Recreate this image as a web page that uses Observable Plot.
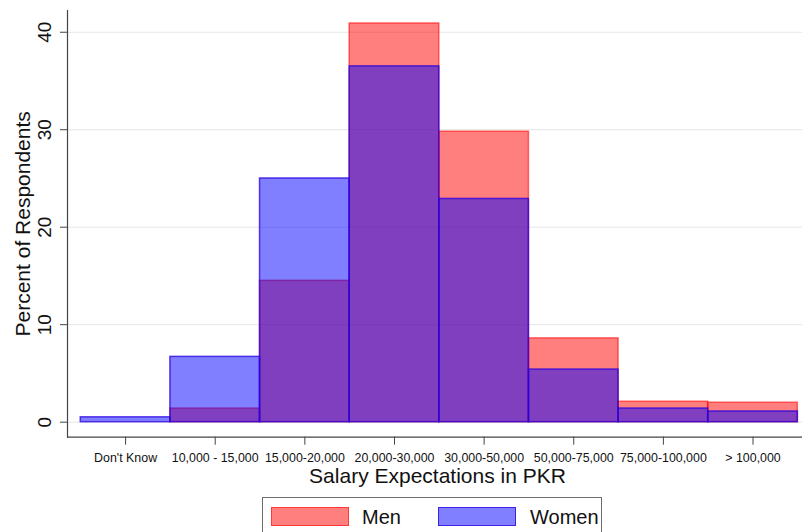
<!DOCTYPE html>
<html>
<head>
<meta charset="utf-8">
<script src="https://cdn.jsdelivr.net/npm/d3@7"></script>
<script src="https://cdn.jsdelivr.net/npm/@observablehq/plot@0.6"></script>
<style>
  html, body { margin: 0; padding: 0; background: #fff; }
  body { font-family: "Liberation Sans", Arial, Helvetica, sans-serif; }
  #wrap { position: relative; width: 802px; height: 532px; overflow: hidden; }
  #legend { position: absolute; left: 262px; top: 497px; width: 340px; height: 60px;
            border: 1px solid #6e6e6e; box-sizing: border-box; background: #fff; }
  .sw { position: absolute; top: 9px; width: 78px; height: 19px; box-sizing: border-box; }
  .lt { position: absolute; top: 8px; font-size: 20px; line-height: 22px; color: #111; }
</style>
</head>
<body>
<div id="wrap">
  <div id="chart"></div>
  <div id="legend"></div>
</div>
<script>
const categories = ["Don't Know", "10,000 - 15,000", "15,000-20,000", "20,000-30,000",
                    "30,000-50,000", "50,000-75,000", "75,000-100,000", "> 100,000"];
const men   = [0,   1.4, 14.5, 40.9, 29.8, 8.6, 2.1, 2.0];
const women = [0.5, 6.7, 25.0, 36.5, 22.9, 5.4, 1.4, 1.1];
const yTicks = [0, 10, 20, 30, 40];
const seriesNames = ["Men", "Women"];
const xTitle = "Salary Expectations in PKR";
const yTitle = "Percent of Respondents";

const menData = categories.map((c, i) => ({cat: c, v: men[i]})).filter(d => d.v > 0);
const womenData = categories.map((c, i) => ({cat: c, v: women[i]})).filter(d => d.v > 0);

const font = "Liberation Sans, Arial, Helvetica, sans-serif";

const chart = Plot.plot({
  width: 802,
  height: 496,
  marginLeft: 67,
  marginRight: 0,
  marginTop: 10,
  marginBottom: 59.3,
  style: {fontFamily: font, background: "#fff", color: "#222"},
  x: {type: "band", domain: categories, paddingInner: 0, paddingOuter: 0.1, align: 0.74, round: false},
  y: {domain: [-1.54, 42.23]},
  marks: [
    Plot.ruleY(yTicks, {stroke: "#e6e6e6", strokeWidth: 1}),
    Plot.barY(menData, {x: "cat", y: "v", fill: "#ff0000", fillOpacity: 0.5,
      stroke: "#ff0000", strokeOpacity: 0.55, strokeWidth: 1.5}),
    Plot.barY(womenData, {x: "cat", y: "v", fill: "#0000ff", fillOpacity: 0.5,
      stroke: "#2a00e0", strokeOpacity: 0.75, strokeWidth: 1.5}),
    Plot.ruleY([-1.54], {stroke: "#444", strokeWidth: 1.2}),
    Plot.frame({anchor: "left", stroke: "#444", strokeWidth: 1.2}),
    Plot.axisY({ticks: yTicks, tickSize: 7, tickFormat: () => "", label: null,
      stroke: "#444"}),
    Plot.text(yTicks, {y: d => d, text: d => String(d), frameAnchor: "left", dx: -17,
      rotate: -90, textAnchor: "middle", lineAnchor: "bottom", fontSize: 19, fill: "#111"}),
    Plot.axisX({tickSize: 8, tickPadding: 8, fontSize: 12.4, label: null, stroke: "#444",
      fill: "#111"}),
    Plot.text([xTitle], {frameAnchor: "bottom", dy: 45.3, dx: 2.5, lineAnchor: "bottom",
      fontSize: 21, fill: "#111"}),
    Plot.text([yTitle], {frameAnchor: "left", dx: -38, rotate: -90, textAnchor: "middle",
      lineAnchor: "bottom", fontSize: 21, fill: "#111"})
  ]
});
document.getElementById("chart").appendChild(chart);

const legend = document.getElementById("legend");
const items = [
  {name: seriesNames[0], fill: "rgba(255,0,0,0.5)", stroke: "rgba(255,0,0,0.55)", sx: 8, tx: 99},
  {name: seriesNames[1], fill: "rgba(0,0,255,0.5)", stroke: "rgba(42,0,224,0.75)", sx: 175, tx: 267}
];
for (const it of items) {
  const s = document.createElement("div");
  s.className = "sw";
  s.style.left = it.sx + "px";
  s.style.background = it.fill;
  s.style.border = "1.5px solid " + it.stroke;
  legend.appendChild(s);
  const t = document.createElement("div");
  t.className = "lt";
  t.style.left = it.tx + "px";
  t.textContent = it.name;
  legend.appendChild(t);
}
</script>
</body>
</html>
